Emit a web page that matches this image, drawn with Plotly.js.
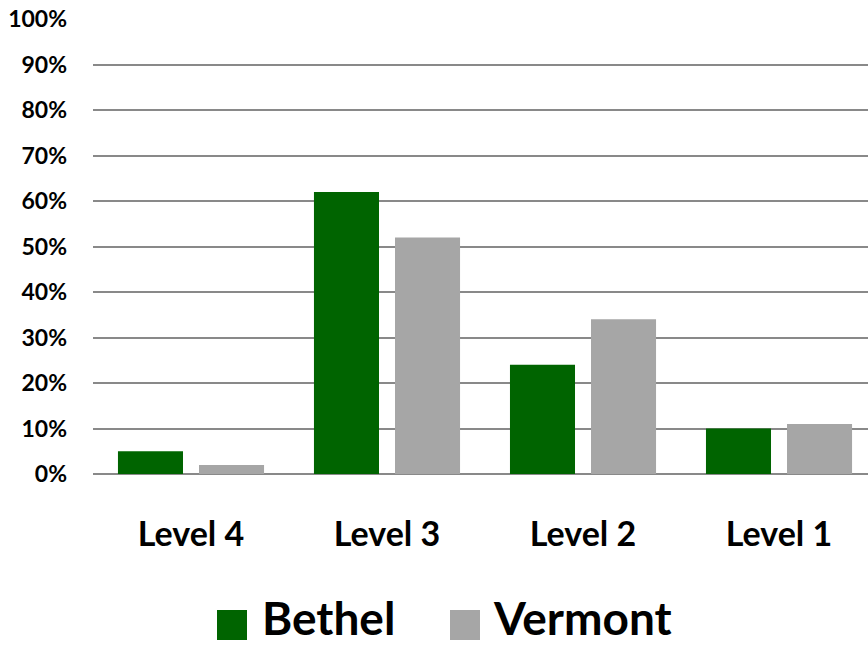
<!DOCTYPE html>
<html>
<head>
<meta charset="utf-8">
<script src="https://cdn.plot.ly/plotly-3.0.1.min.js"></script>
<style>html,body{margin:0;padding:0;background:#fff;}#chart{width:868px;height:645px;}</style>
</head>
<body>
<div id="chart"></div>
<script>
var categories = ["Level 4", "Level 3", "Level 2", "Level 1"];
var bethel = [5, 62, 24, 10];
var vermont = [2, 52, 34, 11];
var yTicks = [0, 10, 20, 30, 40, 50, 60, 70, 80, 90, 100];
var yTickLabels = yTicks.map(function(v){ return v + "%"; });
var seriesNames = ["Bethel", "Vermont"];
var seriesColors = ["#006400", "#A6A6A6"];

var W = 868, H = 645;
var mL = 93, mR = 0, mT = 19, mB = 171;
var plotW = W - mL - mR, plotH = H - mT - mB;
function px2x(px){ return (px - mL) / plotW; }
function py2y(py){ return (H - mB - py) / plotH; }

var font = "Lato, 'Open Sans', sans-serif";

var traces = [
  {type: "bar", name: seriesNames[0], x: categories, y: bethel,
   marker: {color: seriesColors[0]}, showlegend: false, hoverinfo: "none"},
  {type: "bar", name: seriesNames[1], x: categories, y: vermont,
   marker: {color: seriesColors[1]}, showlegend: false, hoverinfo: "none"}
];

// custom legend (squares + labels)
var legendItems = [
  {sq: 217, tx: 261},
  {sq: 450, tx: 492}
];
var shapes = [], annotations = [];
legendItems.forEach(function(it, i){
  shapes.push({type: "rect", xref: "paper", yref: "paper",
    x0: px2x(it.sq), x1: px2x(it.sq + 30), y0: py2y(640), y1: py2y(610),
    fillcolor: seriesColors[i], line: {width: 0}});
  annotations.push({xref: "paper", yref: "paper", x: px2x(it.tx), y: py2y(617),
    xanchor: "left", yanchor: "middle", showarrow: false, borderpad: 0,
    text: "<b>" + seriesNames[i] + "</b>",
    font: {family: font, size: 46, color: "#000"}});
});

var layout = {
  width: W, height: H,
  margin: {l: mL, r: mR, t: mT, b: mB, pad: 0},
  paper_bgcolor: "#fff", plot_bgcolor: "#fff",
  barmode: "group", bargap: 0.173, bargroupgap: 0.1975,
  showlegend: false,
  xaxis: {
    type: "category", range: [-0.5, 3.454],
    showgrid: false, zeroline: false, showline: false, ticks: "",
    tickfont: {family: font, size: 34, color: "#000", weight: "bold"},
    ticklabelstandoff: 37, fixedrange: true
  },
  yaxis: {
    range: [0, 100], tickvals: yTicks, ticktext: yTickLabels,
    showgrid: true, gridcolor: "#898989", gridwidth: 2,
    zeroline: true, zerolinecolor: "#898989", zerolinewidth: 2,
    showline: false, ticks: "",
    tickfont: {family: font, size: 23, color: "#000", weight: "bold"},
    ticklabelstandoff: 25, fixedrange: true
  },
  shapes: shapes,
  annotations: annotations
};

Plotly.newPlot("chart", traces, layout, {displayModeBar: false, staticPlot: true});
</script>
</body>
</html>
